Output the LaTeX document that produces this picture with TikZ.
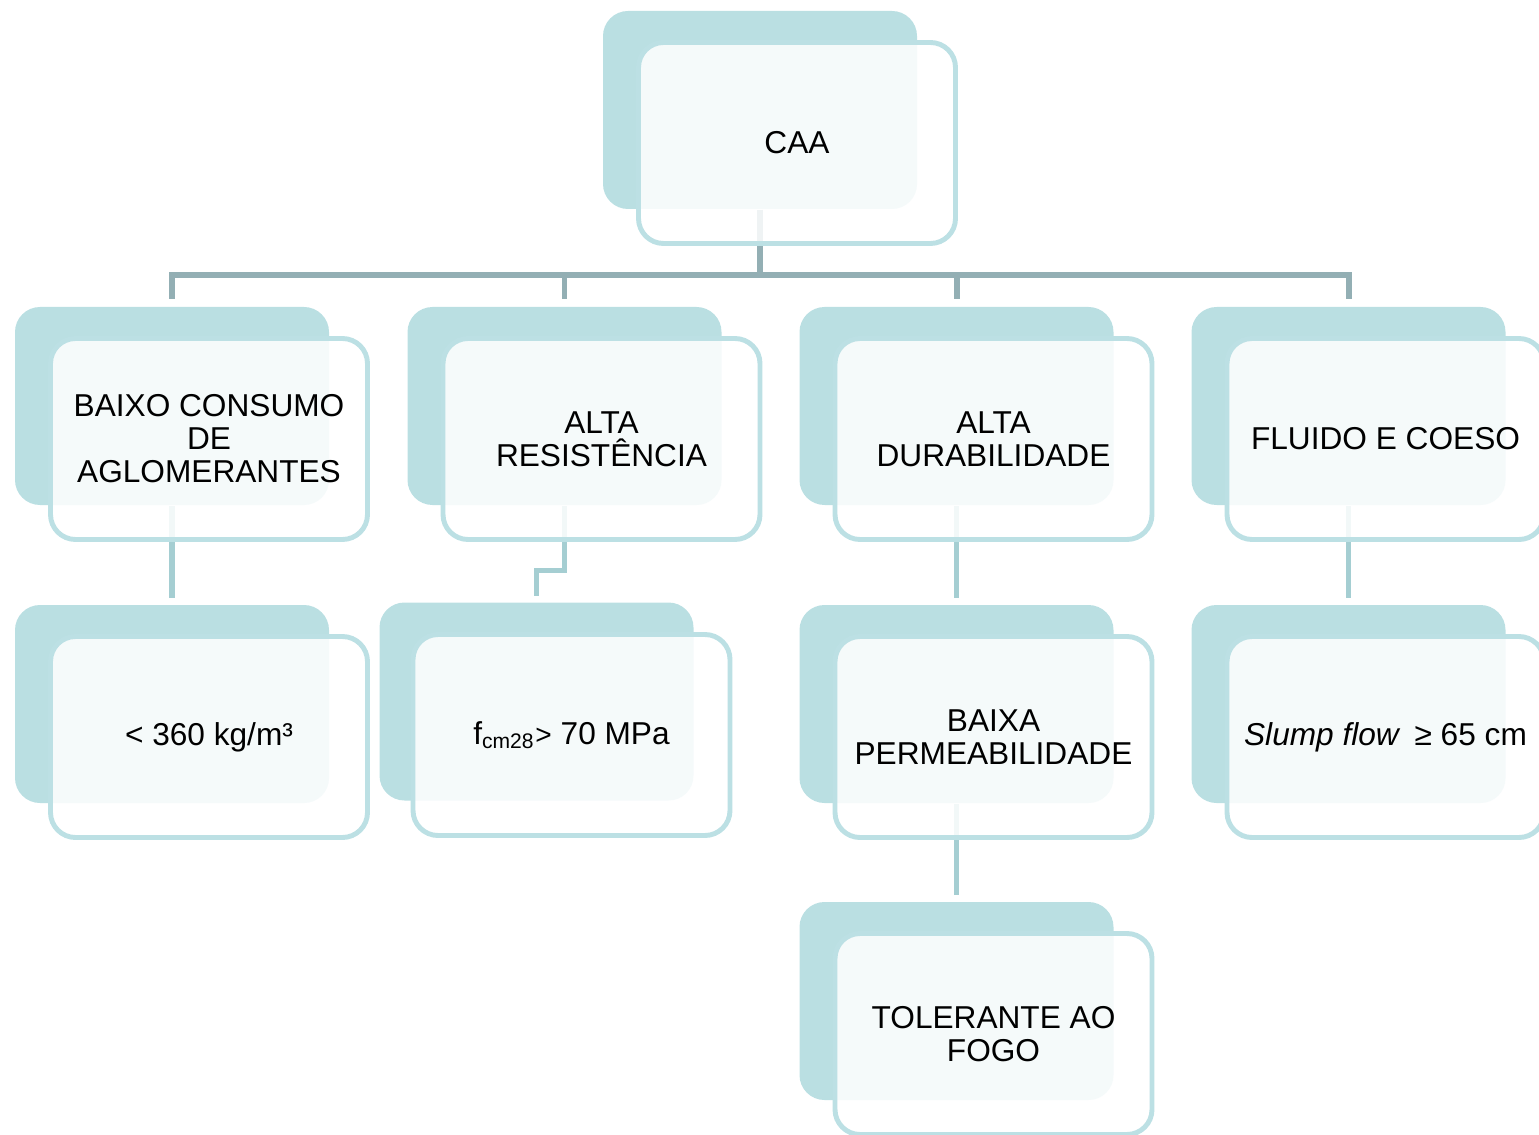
\documentclass[tikz,border=0pt]{standalone}
\usepackage{fontspec}
\setmainfont{Liberation Sans}
\usetikzlibrary{positioning,backgrounds}
\definecolor{caaback}{HTML}{BADFE2}
\definecolor{caaedge}{HTML}{BCE0E4}
\definecolor{linkmain}{HTML}{93AFB4}
\definecolor{linksub}{HTML}{A5CED2}
\tikzset{
  backbox/.style={fill=caaback, rounded corners=0.25cm, minimum width=3.14cm, minimum height=1.98cm, inner sep=0pt},
  frontbox/.style={draw=caaedge, line width=1.4pt, fill=white, fill opacity=0.86, text opacity=1, rounded corners=0.25cm, minimum width=3.17cm, minimum height=2.01cm, inner sep=0pt, align=center, font=\fontsize{9}{9.4}\selectfont},
  mainlink/.style={draw=linkmain, line width=1.7pt},
  sublink/.style={draw=linksub, line width=1.5pt, shorten >=0.06cm},
}
\begin{document}
\begin{tikzpicture}
    \useasboundingbox (0,0) rectangle (15.39,-11.35);
    % top
    \node[backbox] (caa-b) at (7.60,-1.10) {};
    \node[frontbox] (caa) at ([shift={(0.37,-0.33)}]caa-b) {CAA};
    % second row
    \node[backbox] (baixo-b) at (1.72,-4.06) {};
    \node[frontbox] (baixo) at ([shift={(0.37,-0.33)}]baixo-b) {BAIXO CONSUMO\\DE\\AGLOMERANTES};
    \node[backbox] (alta-b) at (5.645,-4.06) {};
    \node[frontbox] (alta) at ([shift={(0.37,-0.33)}]alta-b) {ALTA\\RESISTÊNCIA};
    \node[backbox] (dura-b) at (9.565,-4.06) {};
    \node[frontbox] (dura) at ([shift={(0.37,-0.33)}]dura-b) {ALTA\\DURABILIDADE};
    \node[backbox] (fluido-b) at (13.485,-4.06) {};
    \node[frontbox] (fluido) at ([shift={(0.37,-0.33)}]fluido-b) {FLUIDO E COESO};
    % third row
    \node[backbox] (consumo-b) at (1.72,-7.04) {};
    \node[frontbox] (consumo) at ([shift={(0.37,-0.33)}]consumo-b) {< 360 kg/m³};
    \node[backbox] (fck-b) at (5.365,-7.015) {};
    \node[frontbox] (fck) at ([shift={(0.35,-0.335)}]fck-b) {f\textsubscript{cm28}{\footnotesize >} 70 MPa};
    \node[backbox] (perm-b) at (9.565,-7.04) {};
    \node[frontbox] (perm) at ([shift={(0.37,-0.33)}]perm-b) {BAIXA\\PERMEABILIDADE};
    \node[backbox] (slump-b) at (13.485,-7.04) {};
    \node[frontbox] (slump) at ([shift={(0.37,-0.33)}]slump-b) {\textit{Slump flow}\, ≥ 65 cm};
    % last
    \node[backbox] (fogo-b) at (9.565,-10.01) {};
    \node[frontbox] (fogo) at ([shift={(0.37,-0.33)}]fogo-b) {TOLERANTE AO\\FOGO};
    % connectors, under the boxes
    \coordinate (bar) at (7.60,-2.75);
    \begin{scope}[on background layer]
      \draw[mainlink] (caa-b.south) -- (bar);
      \foreach \n in {baixo,alta,dura,fluido}
        \draw[mainlink, shorten >=0.07cm] (bar) -| (\n-b.north);
      \draw[sublink] (baixo-b.south) -- (consumo-b.north);
      \draw[sublink] (alta-b.south) -- ++(0,-0.65) -| (fck-b.north);
      \draw[sublink] (dura-b.south) -- (perm-b.north);
      \draw[sublink] (fluido-b.south) -- (slump-b.north);
      \draw[sublink] (perm-b.south) -- (fogo-b.north);
    \end{scope}
\end{tikzpicture}
\end{document}
